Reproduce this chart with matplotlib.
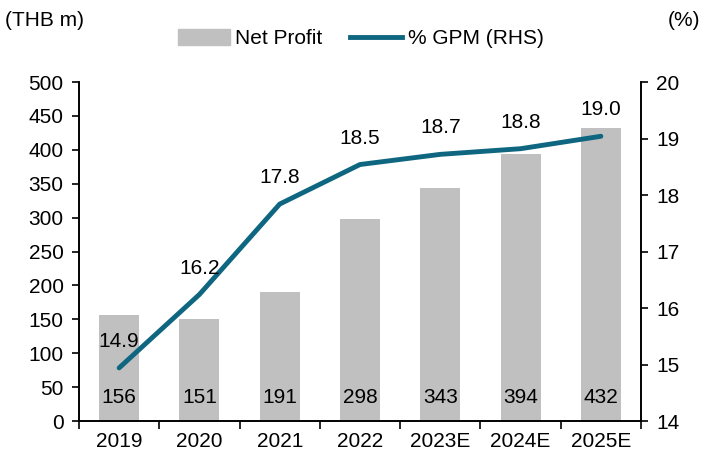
import matplotlib

matplotlib.use("Agg")
import matplotlib.pyplot as plt
from matplotlib.lines import Line2D
from matplotlib.patches import Patch

years = ["2019", "2020", "2021", "2022", "2023E", "2024E", "2025E"]
net_profit = [156, 151, 191, 298, 343, 394, 432]
gpm = [14.94, 16.24, 17.84, 18.54, 18.72, 18.82, 19.04]

BAR_COLOR = "#C0C0C0"
LINE_COLOR = "#0F6680"
FS = 15

plt.rcParams["font.family"] = ["Liberation Sans", "DejaVu Sans"]
plt.rcParams["font.size"] = FS

fig = plt.figure(figsize=(7.07, 4.55), dpi=100)
ax = fig.add_axes([0.1117, 0.0747, 0.795, 0.745])
ax2 = ax.twinx()

x = list(range(len(years)))
ax.bar(x, net_profit, width=0.5, color=BAR_COLOR, zorder=1)
for xi, v in zip(x, net_profit):
    ax.text(xi, 35, f"{v}", ha="center", va="center", fontsize=FS)

ax2.plot(x, gpm, color=LINE_COLOR, linewidth=3.5, solid_capstyle="round", zorder=3)
for xi, v in zip(x, gpm):
    ax2.annotate(f"{v:.1f}", (xi, v), xytext=(0, 19), textcoords="offset points",
                 ha="center", va="center", fontsize=FS)

ax.set_xlim(-0.5, len(years) - 0.5)
ax.set_ylim(0, 500)
ax.set_yticks(range(0, 501, 50))
ax2.set_ylim(14, 20)
ax2.set_yticks(range(14, 21))

# ticks sit between categories, labels centred under bars
ax.set_xticks([i - 0.5 for i in range(len(years) + 1)])
ax.set_xticklabels([])
ax.set_xticks(x, minor=True)
ax.set_xticklabels(years, minor=True)
ax.tick_params(axis="x", which="major", direction="out", length=6, width=1.2)
ax.tick_params(axis="x", which="minor", length=0, pad=8)
ax.tick_params(axis="y", direction="out", length=5, width=1.2, pad=6)
ax2.tick_params(axis="y", direction="out", length=5, width=1.2, pad=6)

for a in (ax, ax2):
    a.spines["top"].set_visible(False)
    for s in ("left", "right", "bottom"):
        a.spines[s].set_linewidth(1.2)

fig.text(0.007, 0.955, "(THB m)", ha="left", va="center", fontsize=FS)
fig.text(0.99, 0.955, "(%)", ha="right", va="center", fontsize=FS)

handles = [Patch(color=BAR_COLOR, label="Net Profit"),
           Line2D([0], [0], color=LINE_COLOR, linewidth=3.5, label="% GPM (RHS)")]
fig.legend(handles=handles, loc="center", bbox_to_anchor=(0.51, 0.915), ncol=2,
           frameon=False, handlelength=2.5, handleheight=0.75, handletextpad=0.25,
           columnspacing=1.35, fontsize=FS)

fig.savefig("out.png", dpi=100)
